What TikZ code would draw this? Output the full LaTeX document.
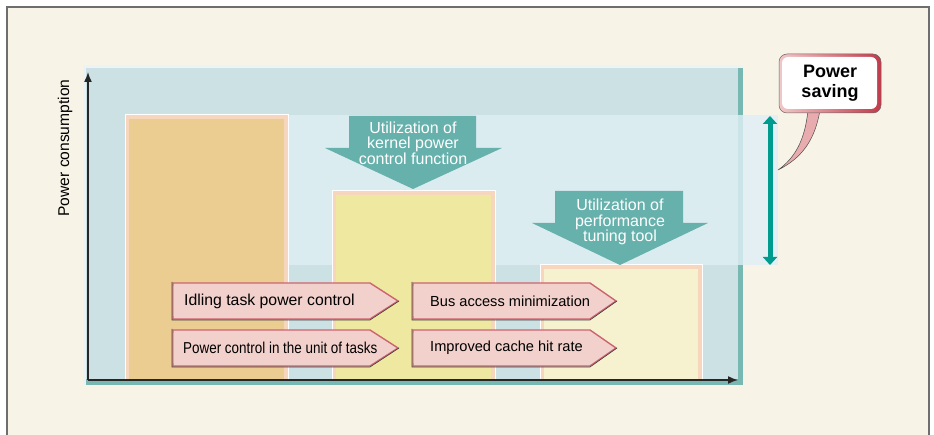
\documentclass[tikz,border=0pt]{standalone}
\usepackage{fontspec}
\setmainfont{Liberation Sans}
\usetikzlibrary{arrows.meta}
\definecolor{cream}{HTML}{F7F3E7}
\definecolor{framegray}{HTML}{6E6E6E}
\definecolor{panel}{HTML}{CCE1E3}
\definecolor{paneledge}{HTML}{78B8B3}
\definecolor{band}{HTML}{DFEFF5}
\definecolor{barA}{HTML}{EBCD92}
\definecolor{barB}{HTML}{EEE8A0}
\definecolor{barC}{HTML}{F6F2D0}
\definecolor{barrim}{HTML}{F6D6BC}
\definecolor{downteal}{HTML}{66B1AC}
\definecolor{darkteal}{HTML}{009B8F}
\definecolor{chevpink}{HTML}{F2D0CB}
\definecolor{chevred}{HTML}{CC6470}
\definecolor{calloutred}{HTML}{C23A4A}
\definecolor{calloutpink}{HTML}{F2C8C8}
\tikzset{
  barbox/.style={fill=barrim, draw=white, line width=1pt},
  downarrow/.style={fill=downteal},
  arrowtext/.style={text=white, align=center, font=\fontsize{16}{15.5}\selectfont, inner sep=0pt},
  chevron/.style={fill=chevpink, draw=chevred, line width=1.4pt, line join=miter},
  chevedge/.style={draw=black!75, line width=0.6pt},
  chevtext/.style={anchor=west, inner sep=0pt, text=black},
  axis/.style={line width=1.5pt, draw=black!85, -{Latex[length=10pt,width=8pt]}},
}
\begin{document}
\begin{tikzpicture}[x=1pt,y=-1pt]
\useasboundingbox (0,0) rectangle (934,435);
\clip (0,0) rectangle (934,435);
% background and frame
\fill[white] (0,0) rectangle (934,435);
\fill[cream] (7,7) rectangle (929,445);
\draw[framegray, line width=1.5pt] (7,445) -- (7,7) -- (929,7) -- (929,445);
% panel
\fill[white!60!panel] (83,65) rectangle (743,385);
\fill[panel] (86,68) rectangle (743,385);
\fill[paneledge] (738,68) rectangle (743,385);
\fill[paneledge] (86,379) rectangle (743,385);
% light band
\fill[band, fill opacity=0.8] (125,115) rectangle (778,265);
% bars
\fill[barbox] (125,115) rectangle (288,380);
\fill[barA] (129,119) rectangle (284,380);
\fill[barbox] (332,191) rectangle (495,380);
\fill[barB] (336,195) rectangle (491,380);
\fill[barbox] (540,265) rectangle (702,380);
\fill[barC] (544,269) rectangle (698,380);
% down arrows
\fill[downarrow] (349,116) -- (476,116) -- (476,148) -- (502,148) -- (413,189) -- (325,148) -- (349,148) -- cycle;
\node[arrowtext] (kern) at (413,143) {Utilization of\\kernel power\\control function};
\fill[downarrow] (555,191) -- (683,191) -- (683,223) -- (708,223) -- (620,265) -- (532,223) -- (555,223) -- cycle;
\node[arrowtext] (tune) at (620,222) {Utilization of\\performance\\tuning tool};
% chevrons
\foreach \x/\xe/\xt/\y in {172/370/399/282, 172/370/399/329, 412/590/617/282, 412/590/617/329}{
  \pgfmathsetmacro{\ym}{\y+19}
  \pgfmathsetmacro{\yb}{\y+38}
  \filldraw[chevron] (\x+1,\y+1) -- (\xe,\y+1) -- (\xt-1,\ym) -- (\xe,\yb-1) -- (\x+1,\yb-1) -- cycle;
  \fill[chevpink] (\x+1.5,\y+4) -- (\xe-3,\y+4) -- (\xt-6,\ym) -- (\xe-3,\yb-4) -- (\x+1.5,\yb-4) -- cycle;
  \draw[chevedge] (\x,\y) -- (\x,\yb) -- (\xe,\yb) -- (\xt,\ym);
}
\node[chevtext, font=\fontsize{15.8}{18}\selectfont] (idle) at (184,301) {Idling task power control};
\node[chevtext, font=\fontsize{15.8}{18}\selectfont] (unit) at (183,348) {\scalebox{0.85}[1]{Power control in the unit of tasks}};
\node[chevtext, font=\fontsize{14.6}{17}\selectfont] (bus) at (430,301) {Bus access minimization};
\node[chevtext, font=\fontsize{14.6}{17}\selectfont] (cache) at (430,348) {Improved cache hit rate};
% axes
\coordinate (origin) at (88,380);
\coordinate (ytip) at (88,72);
\coordinate (xtip) at (738,380);
\draw[axis] (origin) -- (ytip);
\draw[axis] (origin) -- (xtip);
\node[rotate=90, font=\fontsize{15.6}{18}\selectfont, inner sep=0pt] (ylab) at (65,148) {Power consumption};
% double arrow
\coordinate (dtop) at (770,116);
\coordinate (dbot) at (770,265);
\draw[darkteal, line width=5pt, {Triangle[width=14pt,length=8pt]}-{Triangle[width=14pt,length=8pt]}] (dtop) -- (dbot);
% callout
\coordinate (tailtip) at (778,170);
\filldraw[fill=calloutpink!80!calloutred, draw=black!70, line width=0.5pt] (808,110) .. controls (805,140) and (795,158) .. (tailtip) .. controls (802,158) and (815,140) .. (820,110) -- cycle;
\shade[left color=calloutpink, right color=calloutred, rounded corners=8pt] (779,54) rectangle (881,113);
\draw[black!60, line width=0.5pt, rounded corners=8pt] (779,54) rectangle (881,113);
\fill[white, rounded corners=6pt] (782,57) rectangle (877,109);
\node[font=\bfseries\fontsize{18}{20}\selectfont, align=center, inner sep=0pt] (saving) at (830,83) {Power\\saving};
\end{tikzpicture}
\end{document}
